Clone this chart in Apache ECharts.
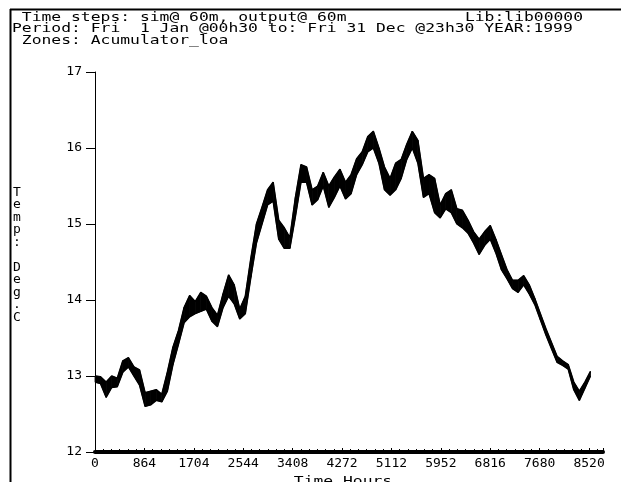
<!DOCTYPE html>
<html>
<head>
<meta charset="utf-8">
<script src="https://cdn.jsdelivr.net/npm/echarts@6/dist/echarts.min.js"></script>
<style>
  html, body { margin: 0; padding: 0; background: #fff; }
  #chart { width: 621px; height: 482px; }
</style>
</head>
<body>
<div id="chart"></div>
<script>
// Hourly zone temperature, summarised every 96 h as the low / high of the trace
const hours = [
  0, 96, 192, 288, 384, 480, 576, 672, 768, 864,
  960, 1056, 1152, 1248, 1344, 1440, 1536, 1632, 1728, 1824,
  1920, 2016, 2112, 2208, 2304, 2400, 2496, 2592, 2688, 2784,
  2880, 2976, 3072, 3168, 3264, 3360, 3456, 3552, 3648, 3744,
  3840, 3936, 4032, 4128, 4224, 4320, 4416, 4512, 4608, 4704,
  4800, 4896, 4992, 5088, 5184, 5280, 5376, 5472, 5568, 5664,
  5760, 5856, 5952, 6048, 6144, 6240, 6336, 6432, 6528, 6624,
  6720, 6816, 6912, 7008, 7104, 7200, 7296, 7392, 7488, 7584,
  7680, 7776, 7872, 7968, 8064, 8160, 8256, 8352, 8448, 8544
];
const tempLow = [
  12.92, 12.90, 12.72, 12.85, 12.86, 13.05, 13.12, 13.00, 12.88, 12.60,
  12.62, 12.68, 12.66, 12.80, 13.15, 13.42, 13.70, 13.78, 13.82, 13.85,
  13.88, 13.72, 13.65, 13.90, 14.05, 13.95, 13.75, 13.82, 14.30, 14.75,
  15.00, 15.25, 15.30, 14.80, 14.68, 14.68, 15.10, 15.55, 15.55, 15.25,
  15.32, 15.50, 15.22, 15.35, 15.50, 15.33, 15.40, 15.65, 15.78, 15.95,
  16.00, 15.80, 15.45, 15.38, 15.45, 15.60, 15.85, 16.00, 15.80, 15.35,
  15.40, 15.15, 15.08, 15.20, 15.15, 15.00, 14.95, 14.88, 14.75, 14.60,
  14.72, 14.80, 14.62, 14.40, 14.28, 14.15, 14.10, 14.20, 14.08, 13.94,
  13.74, 13.54, 13.36, 13.18, 13.14, 13.09, 12.82, 12.68, 12.84, 13.00
];
const tempHigh = [
  13.00, 12.99, 12.92, 13.00, 12.97, 13.20, 13.24, 13.12, 13.08, 12.78,
  12.80, 12.82, 12.76, 13.05, 13.38, 13.60, 13.90, 14.06, 13.98, 14.10,
  14.05, 13.90, 13.80, 14.08, 14.33, 14.20, 13.88, 14.05, 14.55, 15.00,
  15.22, 15.45, 15.55, 15.05, 14.95, 14.82, 15.35, 15.78, 15.75, 15.45,
  15.50, 15.68, 15.50, 15.62, 15.72, 15.55, 15.65, 15.86, 15.95, 16.15,
  16.22, 16.00, 15.75, 15.60, 15.80, 15.85, 16.05, 16.22, 16.10, 15.60,
  15.65, 15.60, 15.25, 15.40, 15.45, 15.20, 15.18, 15.05, 14.90, 14.80,
  14.90, 14.98, 14.80, 14.60, 14.40, 14.26, 14.26, 14.32, 14.20, 14.02,
  13.82, 13.62, 13.44, 13.26, 13.20, 13.15, 12.92, 12.80, 12.92, 13.06
];
const xTickLabels = ['0', '864', '1704', '2544', '3408', '4272', '5112', '5952', '6816', '7680', '8520'];
const xTickStep = 852;
const headerLeft = [
  ' Time steps: sim@ 60m, output@ 60m',
  'Period: Fri  1 Jan @00h30 to: Fri 31 Dec @23h30 YEAR:1999',
  ' Zones: Acumulator_loa'
];
const headerRight = 'Lib:lib00000';
const yAxisTitle = 'Temp: Deg.C';
const xAxisTitle = 'Time Hours';

const MONO = "'DejaVu Sans Mono', 'Liberation Mono', monospace";
const STRETCH = 1.257;   // widen the mono glyphs to the terminal cell pitch

const bandRows = hours.map((h, i) => [h, tempLow[i], tempHigh[i]]);

// filled strip between the low and high trace of two neighbouring samples
function renderBand(params, api) {
  const i = params.dataIndex;
  if (i >= hours.length - 1) return null;
  const a = api.coord([hours[i], tempLow[i]]);
  const b = api.coord([hours[i], tempHigh[i]]);
  const c = api.coord([hours[i + 1], tempHigh[i + 1]]);
  const d = api.coord([hours[i + 1], tempLow[i + 1]]);
  return {
    type: 'polygon',
    shape: { points: [a, b, c, d] },
    style: { fill: '#000', stroke: '#000', lineWidth: 0.8 }
  };
}

const chart = echarts.init(document.getElementById('chart'), null, { renderer: 'canvas' });

const graphics = [
  // frame
  { type: 'line', shape: { x1: 10, y1: 9.5, x2: 621, y2: 9.5 }, style: { stroke: '#000', lineWidth: 2 } },
  { type: 'line', shape: { x1: 10.5, y1: 9, x2: 10.5, y2: 482 }, style: { stroke: '#000', lineWidth: 2 } },
  // header
  ...headerLeft.map((t, i) => ({
    type: 'text', x: 12, y: 17.5 + i * 11.5, scaleX: STRETCH,
    style: { text: t, fill: '#000', font: '13px ' + MONO, verticalAlign: 'middle', align: 'left' }
  })),
  {
    type: 'text', x: 583, y: 17.5, scaleX: STRETCH,
    style: { text: headerRight, fill: '#000', font: '13px ' + MONO, verticalAlign: 'middle', align: 'right' }
  },
  // vertical axis title, one glyph per row
  {
    type: 'text', x: 17, y: 186,
    style: {
      text: yAxisTitle.split('').join('\n'), fill: '#000', font: '13px ' + MONO,
      align: 'center', verticalAlign: 'top', lineHeight: 12.5
    }
  },
  // horizontal axis title, clipped by the bottom edge
  {
    type: 'text', x: 343, y: 475, scaleX: STRETCH,
    style: { text: xAxisTitle, fill: '#000', font: '13px ' + MONO, align: 'center', verticalAlign: 'top' }
  }
];

chart.setOption({
  animation: false,
  backgroundColor: '#fff',
  grid: { left: 95, right: 18, top: 72, bottom: 30, containLabel: false },
  xAxis: {
    type: 'value', min: 0, max: 8760, interval: xTickStep,
    axisLine: { show: true, onZero: false, lineStyle: { color: '#000', width: 4 } },
    axisTick: { show: true, inside: true, length: 4, lineStyle: { color: '#000', width: 1 } },
    minorTick: { show: true, splitNumber: 6, length: 3, lineStyle: { color: '#000', width: 1 } },
    splitLine: { show: false },
    axisLabel: {
      show: true, margin: 5, color: '#000', fontFamily: MONO, fontSize: 13,
      showMaxLabel: false,
      formatter: v => (v % xTickStep === 0 ? (xTickLabels[v / xTickStep] || '') : '')
    }
  },
  yAxis: {
    type: 'value', min: 12, max: 17, interval: 1,
    axisLine: { show: true, onZero: false, lineStyle: { color: '#000', width: 1 } },
    axisTick: { show: true, inside: false, length: 9, lineStyle: { color: '#000', width: 1 } },
    splitLine: { show: false },
    axisLabel: { show: true, margin: 13, color: '#000', fontFamily: MONO, fontSize: 13 }
  },
  series: [
    {
      type: 'custom', name: 'band', data: bandRows, renderItem: renderBand,
      encode: { x: 0, y: [1, 2] }, silent: true, z: 2
    },
    {
      type: 'line', name: 'low', data: hours.map((h, i) => [h, tempLow[i]]), symbol: 'none',
      lineStyle: { color: '#000', width: 1.5 }, silent: true, z: 3
    },
    {
      type: 'line', name: 'high', data: hours.map((h, i) => [h, tempHigh[i]]), symbol: 'none',
      lineStyle: { color: '#000', width: 1.5 }, silent: true, z: 3
    }
  ],
  graphic: graphics
});
</script>
</body>
</html>
